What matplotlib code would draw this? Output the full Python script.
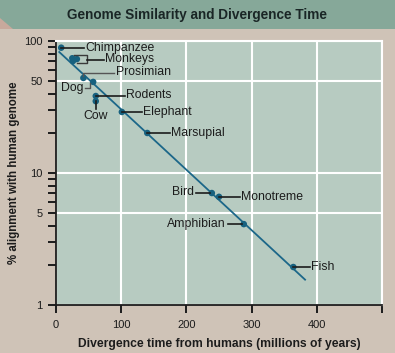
import numpy as np
import matplotlib
matplotlib.use('Agg')
import matplotlib.pyplot as plt
from matplotlib.patches import Rectangle, Polygon
from matplotlib.transforms import IdentityTransform
from matplotlib.ticker import FixedLocator, NullFormatter

# data
species = ['Chimpanzee', 'Monkey1', 'Monkey2', 'Monkey3', 'Prosimian', 'Dog', 'Rodents',
           'Cow', 'Elephant', 'Marsupial', 'Bird', 'Monotreme', 'Amphibian', 'Fish']
div_time = [8, 25, 26, 32, 42, 57, 61, 61, 101, 140, 239, 250, 288, 364]
alignment = [89, 74, 70.5, 73, 52.5, 49, 38.3, 35, 29, 20.1, 7.05, 6.6, 4.1, 1.94]
fit_end = 382

plt.rcParams['font.family'] = ['Liberation Sans', 'DejaVu Sans']

BG = '#cfc3b7'
AXBG = '#b7cbc1'
BAND = '#86a899'
DOT = '#17617f'
LINE = '#1c6789'
INK = '#1c1c1c'

fig = plt.figure(figsize=(3.95, 3.53), dpi=100, facecolor=BG)
W, H = 395, 353

# title band
fig.patches.append(Rectangle((0, 1 - 29 / H), 1, 29 / H, transform=fig.transFigure,
                             facecolor=BAND, edgecolor='none', zorder=0))
fig.patches.append(Polygon([(0, 1 - 18 / H), (0, 1 - 29 / H), (13 / W, 1 - 29 / H)],
                           closed=True, transform=fig.transFigure,
                           facecolor='#c8a99c', edgecolor='none', zorder=1))
fig.text(197 / W, 1 - 15 / H, 'Genome Similarity and Divergence Time', ha='center',
         va='center', fontsize=9.8, fontweight='bold', color='#1a2626')

ax = fig.add_axes([56 / W, 1 - 305 / H, (382 - 56) / W, (305 - 41) / H])
ax.set_facecolor(AXBG)
ax.set_yscale('log')
ax.set_xlim(0, 500)
ax.set_ylim(1, 100)

ax.set_xticks([0, 100, 200, 300, 400, 500])
ax.set_xticklabels(['0', '100', '200', '300', '400', ''])
ax.yaxis.set_major_locator(FixedLocator([1, 5, 10, 50, 100]))
ax.set_yticklabels(['1', '5', '10', '50', '100'])
minor = [2, 3, 4, 6, 7, 8, 9, 20, 30, 40, 60, 70, 80, 90]
ax.yaxis.set_minor_locator(FixedLocator(minor))
ax.yaxis.set_minor_formatter(NullFormatter())
ax.tick_params(axis='both', which='both', direction='out', length=6, width=1.4,
               color=INK, labelsize=8, labelcolor=INK, pad=3.5)
ax.tick_params(axis='x', which='major', pad=4.5)
ax.tick_params(axis='y', which='minor', length=6, width=1.4)

ax.grid(True, which='major', color='white', lw=1.5, zorder=1)
for s in ['top', 'right']:
    ax.spines[s].set_color('white')
    ax.spines[s].set_linewidth(1.5)
for s in ['left', 'bottom']:
    ax.spines[s].set_color(INK)
    ax.spines[s].set_linewidth(1.3)
ax.set_axisbelow(True)

ax.set_xlabel('Divergence time from humans (millions of years)', fontsize=8.7,
              fontweight='bold', color=INK, labelpad=6)
ax.set_ylabel('% alignment with human genome', fontsize=8.3, fontweight='bold',
              color=INK, labelpad=3)

x = np.array(div_time, dtype=float)
y = np.array(alignment, dtype=float)
b, a = np.polyfit(x, np.log10(y), 1)
fx = np.linspace(x.min() - 3, fit_end, 50)
ax.plot(fx, 10 ** (a + b * fx), color=LINE, lw=1.3, zorder=3)
ax.scatter(x, y, s=22, color=DOT, zorder=4, edgecolors='none')

# labels and leader lines, offsets in image pixels (dx right, dy down)
fig.canvas.draw()


def to_px(i):
    return ax.transData.transform((x[i], y[i]))


def leader(i, pts, color=INK, lw=1.2):
    px, py = to_px(i)
    xs = [px + p[0] for p in pts]
    ys = [py - p[1] for p in pts]
    ax.add_line(plt.Line2D(xs, ys, transform=IdentityTransform(), color=color, lw=lw,
                           zorder=5, clip_on=False))


def label(i, text, dx, dy, ha='left', va='center'):
    px, py = to_px(i)
    fig.text((px + dx) / W, (py - dy) / H, text, ha=ha, va=va, fontsize=8.8,
             color=INK, zorder=6)


idx = {n: k for k, n in enumerate(species)}

i = idx['Chimpanzee']; leader(i, [(0, 0), (23, 0)]); label(i, 'Chimpanzee', 24, 0)
i = idx['Monkey3']
leader(i, [(-3, -4), (10, -4), (10, 4), (0, 4)], color='#3a3a3a', lw=1.0)
leader(i, [(10, 1), (27, 1)]); label(i, 'Monkeys', 28, 0)
i = idx['Prosimian']
leader(i, [(0, -2), (0, -5), (31, -5)], color='#555555', lw=1.0); label(i, 'Prosimian', 33, -6)
i = idx['Dog']
leader(i, [(-8, 6), (-3, 6), (-3, 1)], color='#555555', lw=1.0); label(i, 'Dog', -10, 6, ha='right')
i = idx['Rodents']; leader(i, [(0, 0), (29, 0)]); label(i, 'Rodents', 30, -1)
i = idx['Cow']; leader(i, [(0, 0), (0, 8)]); label(i, 'Cow', 0, 15, ha='center')
i = idx['Elephant']; leader(i, [(0, 0), (20, 0)]); label(i, 'Elephant', 21, 0)
i = idx['Marsupial']; leader(i, [(0, 0), (23, 0)]); label(i, 'Marsupial', 24, 0)
i = idx['Bird']; leader(i, [(-16, 0), (-2, 0)]); label(i, 'Bird', -18, -1, ha='right')
i = idx['Monotreme']; leader(i, [(0, 0), (21, 0)]); label(i, 'Monotreme', 22, 0)
i = idx['Amphibian']; leader(i, [(-16, 0), (-2, 0)]); label(i, 'Amphibian', -18, 0, ha='right')
i = idx['Fish']; leader(i, [(0, 0), (17, 0)]); label(i, 'Fish', 18, 0)

fig.savefig('out.png', dpi=100, facecolor=BG)
